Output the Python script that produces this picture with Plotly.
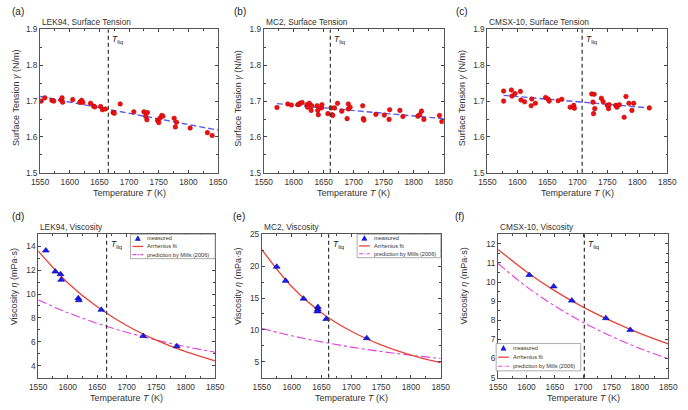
import plotly.graph_objects as go

W, H = 688, 410

# ---------------- data ----------------
a_T = [1552, 1558, 1570, 1573, 1585, 1587, 1588, 1605, 1617, 1620, 1622, 1635, 1640, 1642,
       1652, 1655, 1660, 1673, 1675, 1685, 1708, 1725, 1728, 1730, 1731, 1748, 1750, 1752,
       1755, 1757, 1776, 1778, 1780, 1803, 1832, 1840]
a_gamma = [1.700, 1.709, 1.702, 1.700, 1.703, 1.709, 1.697, 1.704, 1.697, 1.702, 1.696, 1.694,
           1.686, 1.684, 1.685, 1.676, 1.678, 1.668, 1.666, 1.692, 1.670, 1.670, 1.658, 1.648,
           1.668, 1.646, 1.640, 1.652, 1.660, 1.658, 1.652, 1.628, 1.641, 1.625, 1.612, 1.604]
a_fit_T = [1550, 1850]
a_fit_gamma = [1.713, 1.619]

b_T = [1572, 1590, 1596, 1607, 1609, 1611, 1614, 1622, 1623, 1626, 1629, 1630, 1639, 1640,
       1641, 1646, 1647, 1657, 1662, 1664, 1665, 1668, 1673, 1680, 1689, 1691, 1691, 1694,
       1715, 1716, 1717, 1737, 1751, 1759, 1760, 1777, 1782, 1807, 1810, 1813, 1817, 1843, 1847]
b_gamma = [1.682, 1.692, 1.689, 1.690, 1.692, 1.694, 1.696, 1.690, 1.683, 1.694, 1.674, 1.687,
           1.687, 1.674, 1.662, 1.681, 1.690, 1.665, 1.681, 1.662, 1.660, 1.681, 1.694, 1.672,
           1.651, 1.692, 1.678, 1.683, 1.687, 1.651, 1.647, 1.663, 1.661, 1.649, 1.676, 1.674,
           1.657, 1.658, 1.662, 1.672, 1.649, 1.660, 1.643]
b_fit_T = [1572, 1850]
b_fit_gamma = [1.693, 1.651]

c_T = [1577, 1577, 1590, 1591, 1596, 1605, 1606, 1612, 1623, 1624, 1630, 1647, 1651, 1653,
       1668, 1674, 1688, 1694, 1695, 1724, 1728, 1726, 1727, 1729, 1740, 1743, 1750, 1752,
       1753, 1764, 1766, 1770, 1778, 1781, 1786, 1791, 1794, 1820]
c_gamma = [1.728, 1.700, 1.731, 1.714, 1.721, 1.727, 1.703, 1.698, 1.687, 1.706, 1.694, 1.710,
           1.706, 1.700, 1.701, 1.705, 1.683, 1.688, 1.680, 1.720, 1.719, 1.697, 1.665, 1.679,
           1.708, 1.698, 1.688, 1.679, 1.690, 1.688, 1.683, 1.690, 1.655, 1.713, 1.694, 1.674,
           1.694, 1.681]
c_fit_T = [1577, 1820]
c_fit_gamma = [1.716, 1.681]

curve_T = [1550, 1600, 1650, 1700, 1750, 1800, 1850]

d_T = [1563, 1579, 1588, 1589, 1618, 1619, 1657, 1728, 1785]
d_eta = [13.64, 11.88, 11.66, 11.19, 9.65, 9.48, 8.68, 6.48, 5.63]
d_fit = [13.6, 10.95, 8.93, 7.37, 6.15, 5.18, 4.41]
d_mills = [9.51, 8.44, 7.55, 6.80, 6.15, 5.60, 5.13]

e_T = [1575, 1590, 1620, 1644, 1644, 1643, 1658, 1726]
e_eta = [19.9, 17.7, 14.9, 13.6, 13.2, 12.9, 11.7, 8.7]
e_fit = [22.6, 16.8, 12.7, 9.78, 7.64, 6.05, 4.85]
e_mills = [10.23, 9.08, 8.12, 7.30, 6.61, 6.02, 5.51]

f_T = [1605, 1648, 1680, 1740, 1783]
f_eta = [10.37, 9.77, 9.03, 8.11, 7.50]
f_fit = [11.71, 10.54, 9.54, 8.69, 7.96, 7.32, 6.77]
f_mills = [10.97, 9.76, 8.75, 7.89, 7.16, 6.53, 5.99]

legend_labels = ["measured", "Arrhenius fit", "prediction by Mills (2006)"]

T_liq = {"a": 1665, "b": 1661, "c": 1708, "d": 1666, "e": 1662, "f": 1702}
titles = {"a": "LEK94, Surface Tension", "b": "MC2, Surface Tension",
          "c": "CMSX-10, Surface Tension", "d": "LEK94, Viscosity",
          "e": "MC2, Viscosity", "f": "CMSX-10, Viscosity"}

# ---------------- layout geometry (pixels) ----------------
boxes = {  # x0, x1, y0(top), y1(bottom)
    "a": (32, 215, 25, 172), "b": (262, 447, 25, 172), "c": (492, 677, 25, 172),
    "d": (30, 212, 235, 382), "e": (260, 444, 235, 382), "f": (503, 678, 235, 382),
}
letter_x = {"a": 1, "b": 229, "c": 458, "d": 1, "e": 228, "f": 457}
ytitle_x = {"a": 7, "b": 236, "c": 466, "d": 6, "e": 236, "f": 468}
yranges = {"a": [1.5, 1.9], "b": [1.5, 1.9], "c": [1.5, 1.9],
           "d": [3, 15], "e": [2.5, 25], "f": [5, 12.5]}
ydticks = {"a": (1.5, 0.1), "b": (1.5, 0.1), "c": (1.5, 0.1),
           "d": (4, 2), "e": (5, 5), "f": (5, 1)}
# legend boxes: x0, x1, y0, y1 (pixels)
legend_boxes = {"d": (125, 212, 235, 260), "e": (358, 444, 235, 259), "f": (501, 588, 347, 375)}

FONT = "Liberation Sans, Arial, sans-serif"
RED_DOT = dict(color="#f01010", size=4.6, line=dict(color="#b00000", width=0.5))
TRI = dict(symbol="triangle-up", color="#1a1aff", size=6, line=dict(color="#000090", width=0.6))
FIT_BLUE = dict(color="#5a5af0", width=1.4, dash="6px,3px")
ARR = dict(color="#e8443a", width=1.3)
MILLS = dict(color="#e040e0", width=1.1, dash="dashdot")

fig = go.Figure()
keys = ["a", "b", "c", "d", "e", "f"]
for i, k in enumerate(keys):
    n = "" if i == 0 else str(i + 1)
    xa, ya = "x" + n, "y" + n
    x0, x1, y0, y1 = boxes[k]
    fig.layout["xaxis" + n] = dict(
        domain=[x0 / W, x1 / W], anchor=ya, range=[1550, 1850], tick0=1550, dtick=50,
        ticks="inside", ticklen=3, tickcolor="#444", showline=True, linecolor="#555",
        linewidth=1, mirror="ticks", showgrid=False, zeroline=False,
        tickfont=dict(size=8.3, color="#333", family=FONT), ticklabelstandoff=1,
        minor=dict(ticks="inside", ticklen=1.8, dtick=25, tickcolor="#444"),
    )
    t0, dt = ydticks[k]
    fig.layout["yaxis" + n] = dict(
        domain=[1 - y1 / H, 1 - y0 / H], anchor=xa, range=yranges[k], tick0=t0, dtick=dt,
        ticks="inside", ticklen=3, tickcolor="#444", showline=True, linecolor="#555",
        linewidth=1, mirror="ticks", showgrid=False, zeroline=False,
        tickfont=dict(size=8.3, color="#333", family=FONT),
        minor=dict(ticks="inside", ticklen=1.8, dtick=dt / 2, tickcolor="#444"),
    )

    # T_liq line & label
    fig.add_shape(type="line", xref=xa, yref=ya + " domain", x0=T_liq[k], x1=T_liq[k],
                  y0=0, y1=1, line=dict(color="#333", width=1.2, dash="4px,3px"))
    fig.add_annotation(xref=xa, yref=ya + " domain", x=T_liq[k], y=1, xanchor="left",
                       yanchor="top", xshift=2, yshift=-3, showarrow=False,
                       text="<i>T</i><sub>liq</sub>",
                       font=dict(size=8.5, color="#222", family=FONT))
    # panel title
    fig.add_annotation(xref="paper", yref="paper", x=x0 / W, y=1 - y0 / H, xanchor="left",
                       yanchor="bottom", showarrow=False, text=titles[k],
                       font=dict(size=8.3, color="#333", family=FONT))
    # panel letter
    fig.add_annotation(xref="paper", yref="paper", x=letter_x[k] / W,
                       y=1 - (y0 - 11) / H, xanchor="left", yanchor="bottom", showarrow=False,
                       text="(%s)" % k, font=dict(size=10, color="#222", family=FONT))
    # x title
    fig.add_annotation(xref="paper", yref="paper", x=(x0 + x1) / 2 / W, y=1 - (y1 + 21) / H,
                       xanchor="center", yanchor="middle", showarrow=False,
                       text="Temperature <i>T</i> (K)",
                       font=dict(size=9, color="#333", family=FONT))
    # y title
    ytxt = "Surface Tension <i>γ</i> (N/m)" if k in "abc" else "Viscosity <i>η</i> (mPa·s)"
    ymid = (y0 + y1) / 2 - (3 if k in "abc" else 20)
    fig.add_annotation(xref="paper", yref="paper", x=ytitle_x[k] / W, y=1 - ymid / H,
                       xanchor="center", yanchor="middle", textangle=-90, showarrow=False,
                       text=ytxt, font=dict(size=9, color="#333", family=FONT))

# surface tension traces
for (T, g, fT, fg, n) in [(a_T, a_gamma, a_fit_T, a_fit_gamma, ""),
                          (b_T, b_gamma, b_fit_T, b_fit_gamma, "2"),
                          (c_T, c_gamma, c_fit_T, c_fit_gamma, "3")]:
    fig.add_trace(go.Scatter(x=fT, y=fg, mode="lines", line=FIT_BLUE, xaxis="x" + n,
                             yaxis="y" + n, showlegend=False))
    fig.add_trace(go.Scatter(x=T, y=g, mode="markers", marker=RED_DOT, xaxis="x" + n,
                             yaxis="y" + n, showlegend=False))

# viscosity traces
for (T, eta, fit, mills, n) in [(d_T, d_eta, d_fit, d_mills, "4"),
                                (e_T, e_eta, e_fit, e_mills, "5"),
                                (f_T, f_eta, f_fit, f_mills, "6")]:
    fig.add_trace(go.Scatter(x=curve_T, y=mills, mode="lines", line=MILLS, line_shape="spline",
                             name=legend_labels[2], xaxis="x" + n, yaxis="y" + n,
                             showlegend=False))
    fig.add_trace(go.Scatter(x=curve_T, y=fit, mode="lines", line=ARR, line_shape="spline",
                             name=legend_labels[1], xaxis="x" + n, yaxis="y" + n,
                             showlegend=False))
    fig.add_trace(go.Scatter(x=T, y=eta, mode="markers", marker=TRI, name=legend_labels[0],
                             xaxis="x" + n, yaxis="y" + n, showlegend=False))

# compact legends (Origin style)
for k, (lx0, lx1, ly0, ly1) in legend_boxes.items():
    fig.add_shape(type="rect", xref="paper", yref="paper", x0=lx0 / W, x1=lx1 / W,
                  y0=1 - ly1 / H, y1=1 - ly0 / H, line=dict(color="#888", width=0.7),
                  fillcolor="white", layer="above")
    step = (ly1 - ly0) / 3.0
    for j, lab in enumerate(legend_labels):
        yc = ly0 + step * (j + 0.5)
        sx0, sx1 = lx0 + 2, lx0 + 13
        if j == 0:
            cx = (sx0 + sx1) / 2
            path = "M %f,%f L %f,%f L %f,%f Z" % (
                (cx - 2.6) / W, 1 - (yc + 2.2) / H, (cx + 2.6) / W, 1 - (yc + 2.2) / H,
                cx / W, 1 - (yc - 2.6) / H)
            fig.add_shape(type="path", xref="paper", yref="paper", path=path,
                          fillcolor="#1a1aff", line=dict(color="#000090", width=0.5),
                          layer="above")
        else:
            st = ARR if j == 1 else MILLS
            fig.add_shape(type="line", xref="paper", yref="paper", x0=sx0 / W, x1=sx1 / W,
                          y0=1 - yc / H, y1=1 - yc / H, layer="above",
                          line=dict(color=st["color"], width=st["width"],
                                    dash="solid" if j == 1 else "4px,1.5px,1px,1.5px"))
        fig.add_annotation(xref="paper", yref="paper", x=(sx1 + 2) / W, y=1 - yc / H,
                           xanchor="left", yanchor="middle", showarrow=False, text=lab,
                           font=dict(size=5.6, color="#333", family=FONT))

fig.update_layout(
    width=W, height=H, margin=dict(l=0, r=0, t=0, b=0),
    paper_bgcolor="white", plot_bgcolor="white", showlegend=False,
)

fig.write_html("out.html", config={"displayModeBar": False},
               post_script="document.body.style.margin='0';document.body.style.padding='0';")
